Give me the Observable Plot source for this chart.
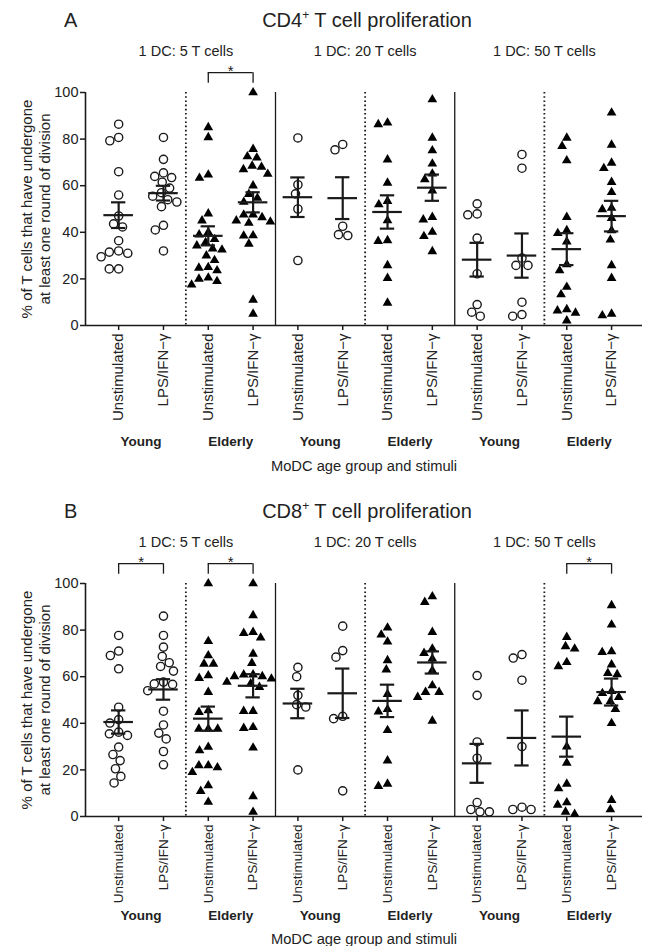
<!DOCTYPE html>
<html><head><meta charset="utf-8">
<script src="https://cdn.jsdelivr.net/npm/d3@7"></script>
<script src="https://cdn.jsdelivr.net/npm/@observablehq/plot@0.6"></script>
<style>
html,body{margin:0;padding:0;background:#fff}
body{width:651px;height:946px;overflow:hidden;font-family:"Liberation Sans",Arial,Helvetica,sans-serif;color:#222}
.panel{position:relative;width:651px}
.head{position:relative;height:36px}
.letter{position:absolute;left:64px;top:10px;font-size:20px;line-height:20px}
.title{position:absolute;left:367px;top:10px;transform:translateX(-50%);white-space:nowrap;font-size:20px;line-height:20px}
.title sup{font-size:12px;vertical-align:0;position:relative;top:-8px}
svg{display:block}
</style>
</head><body>
<div class="panel" id="pA"><div class="head"><span class="letter">A</span><span class="title">CD4<sup>+</sup> T cell proliferation</span></div></div>
<div class="panel" id="pB"><div class="head"><span class="letter">B</span><span class="title">CD8<sup>+</sup> T cell proliferation</span></div></div>
<script>
// ---- categories ----
const ratios = ["1 DC: 5 T cells", "1 DC: 20 T cells", "1 DC: 50 T cells"];
const ages = ["Young", "Elderly"];
const stimuli = ["Unstimulated", "LPS/IFN\u2212γ"];
const yTicks = [0, 20, 40, 60, 80, 100];
const xTitle = "MoDC age group and stimuli";
const yTitle = "% of T cells that have undergone\nat least one round of division";

// ---- CD4+ values: column order = ratio x age x stimulus ----
const cd4_5_young_unstim = [86.4, 80.7, 79.3, 66, 56, 47, 43.6, 42.3, 36.4, 32, 31.5, 31, 29.5, 24.3, 24.3];
const cd4_5_young_lps    = [80.7, 71.3, 65.5, 64, 63.5, 61.5, 59, 57, 55.5, 54, 53, 51, 43, 41, 32];
const cd4_5_elder_unstim = [85, 80.7, 64.7, 63.3, 48, 45, 40, 39, 37, 35.7, 34.3, 33, 32.5, 30, 28, 25, 24.7, 23.6, 20.5, 20, 19, 17.5];
const cd4_5_elder_lps    = [100, 75.7, 72.5, 72, 68.5, 68, 67, 65, 60, 56.4, 54.7, 53, 47.6, 47.5, 46.4, 45, 44.5, 44, 38.6, 38.5, 35, 11, 5];
const cd4_20_young_unstim = [80.5, 60.4, 56.5, 50, 27.9];
const cd4_20_young_lps    = [77.7, 75.4, 42.6, 39, 38.6];
const cd4_20_elder_unstim = [87, 86.3, 71.2, 61.2, 53.4, 51.9, 45.1, 36.5, 36.2, 25.8, 20.3, 9.7];
const cd4_20_elder_lps    = [97, 80.5, 75.1, 69.4, 65.1, 62.7, 57.9, 46.5, 45.4, 40.1, 38.3, 31.8];
const cd4_50_young_unstim = [52.2, 47.9, 47.5, 37.5, 22.2, 9, 5.7, 4];
const cd4_50_young_lps    = [73.4, 67.5, 28.9, 25.8, 25.8, 10, 4.7, 4];
const cd4_50_elder_unstim = [80.5, 77, 70.8, 46.5, 40.8, 39.6, 36, 26.2, 23.6, 16.5, 13.3, 6.9, 6.4, 5.4, 2.1];
const cd4_50_elder_lps    = [91.3, 77.5, 69.8, 67.5, 61.5, 57.2, 50.4, 49.8, 46.1, 40.8, 36.8, 25.8, 20.3, 5, 4.3];

// ---- CD8+ values ----
const cd8_5_young_unstim = [77.7, 71, 69.1, 63.4, 46.9, 41.6, 40.1, 36.2, 35.5, 34.8, 29.8, 26.6, 24, 20.5, 17.2, 14.4];
const cd8_5_young_lps    = [86, 77.7, 72.7, 68.7, 66, 64.4, 62.4, 57.7, 56.9, 56.7, 54, 45.2, 39.3, 35.8, 33.3, 27.9, 22.2];
const cd8_5_elder_unstim = [100, 75.2, 69.1, 65.5, 65.5, 60.5, 59.4, 53.4, 45.5, 44.8, 37.6, 37.6, 37.6, 29.8, 28.3, 21.9, 21.9, 21, 19, 13.3, 10.9, 6.2];
const cd8_5_elder_lps    = [100, 86.3, 79.1, 78.7, 76.7, 69.8, 65.8, 60.9, 60.9, 60.1, 60.1, 59.1, 57.7, 57, 55.5, 45.2, 45.2, 38.3, 37.9, 29.5, 8.6, 1.9];
const cd8_20_young_unstim = [64, 60, 52, 48, 47, 20];
const cd8_20_young_lps    = [81.7, 71.2, 68.4, 43, 42, 11];
const cd8_20_elder_unstim = [81, 78, 75, 67, 63, 52.5, 46, 45, 37, 24, 14, 13];
const cd8_20_elder_lps    = [94.4, 92, 79.1, 72, 70.1, 67.7, 62.7, 56.2, 53.4, 53.4, 51.2, 41];
const cd8_50_young_unstim = [60.5, 52, 32, 25, 6, 3, 2, 2];
const cd8_50_young_lps    = [69.5, 68, 58.5, 30, 4, 3, 3];
const cd8_50_elder_unstim = [77, 73, 72, 66.2, 64.4, 30, 23, 14, 12, 6, 5, 2, 1];
const cd8_50_elder_lps    = [90.6, 82.3, 70.8, 70.5, 65.2, 61.5, 61, 53.8, 52.9, 51.2, 49.4, 49.4, 46, 40, 7, 3];

// significance brackets: pairs of column indices
const cd4_significant = [[2, 3]];
const cd8_significant = [[0, 1], [2, 3], [10, 11]];

const cd4Columns = [cd4_5_young_unstim, cd4_5_young_lps, cd4_5_elder_unstim, cd4_5_elder_lps,
  cd4_20_young_unstim, cd4_20_young_lps, cd4_20_elder_unstim, cd4_20_elder_lps,
  cd4_50_young_unstim, cd4_50_young_lps, cd4_50_elder_unstim, cd4_50_elder_lps];
const cd8Columns = [cd8_5_young_unstim, cd8_5_young_lps, cd8_5_elder_unstim, cd8_5_elder_lps,
  cd8_20_young_unstim, cd8_20_young_lps, cd8_20_elder_unstim, cd8_20_elder_lps,
  cd8_50_young_unstim, cd8_50_young_lps, cd8_50_elder_unstim, cd8_50_elder_lps];

// ---- layout ----
const W = 651, ML = 85, MR = 9, MT = 56, FH = 233;
const xDomain = [-0.74, 11.69];
const pxX = (W - ML - MR) / (xDomain[1] - xDomain[0]);
const pxY = FH / 100;
const DIAM = 9.4;
const FONT = "Liberation Sans, Arial, Helvetica, sans-serif";

// beeswarm spreading (computed from the values)
function swarm(values) {
  const order = values.map((v, i) => i).sort((a, b) => values[b] - values[a]);
  const placed = [], off = new Array(values.length);
  for (const i of order) {
    const y = values[i] * pxY;
    const near = placed.filter(p => Math.abs(p.y - y) < DIAM);
    const cands = [0];
    for (const p of near) {
      const dx = Math.sqrt(DIAM * DIAM - (p.y - y) ** 2);
      cands.push(p.x + dx, p.x - dx);
    }
    cands.sort((a, b) => Math.abs(a) - Math.abs(b) || a - b);
    const best = cands.find(c => near.every(p => (p.x - c) ** 2 + (p.y - y) ** 2 >= DIAM * DIAM - 1e-6));
    placed.push({y, x: best});
    off[i] = best;
  }
  return off;
}

function build(columns, significant, marginBottom, ageDy, titleDy, tickFont) {
  const rows = [], stats = [];
  columns.forEach((vals, col) => {
    const off = swarm(vals);
    const age = ages[Math.floor(col / 2) % 2];
    vals.forEach((v, i) => rows.push({col, age, value: v, x: col + off[i] / pxX}));
    const mean = d3.mean(vals), sem = d3.deviation(vals) / Math.sqrt(vals.length);
    stats.push({col, mean, lo: mean - sem, hi: mean + sem});
  });
  const ratioLabels = ratios.map((label, i) => ({label, x: i * 4 + 1.5}));
  const ageLabels = d3.range(6).map(i => ({label: ages[i % 2], x: i * 2 + 0.5}));
  const dividers = d3.range(1, 3).map(i => i * 4 - 0.5);
  const dotted = d3.range(3).map(i => i * 4 + 1.5);
  const legs = significant.flat();
  const ink = "#1a1a1a";
  return Plot.plot({
    width: W, height: MT + FH + marginBottom,
    marginLeft: ML, marginRight: MR, marginTop: MT, marginBottom,
    style: {fontFamily: FONT, color: "#222", background: "white", overflow: "visible"},
    x: {domain: xDomain, axis: null},
    y: {domain: [0, 100], axis: null},
    marks: [
      Plot.ruleX(dividers, {stroke: ink, strokeWidth: 1.3}),
      Plot.ruleX(dotted, {stroke: ink, strokeWidth: 1.8, strokeDasharray: "1.6,2.6"}),
      Plot.axisY({ticks: yTicks, tickSize: 5, tickPadding: 2, fontSize: 14.5, label: null, stroke: ink, strokeWidth: 1.5}),
      Plot.axisX({ticks: d3.range(12), tickFormat: i => stimuli[i % 2], tickRotate: -90, tickSize: 5, tickPadding: 3, fontSize: tickFont, label: null, stroke: ink, strokeWidth: 1.5}),
      Plot.ruleY([0], {stroke: ink, strokeWidth: 1.6}),
      Plot.ruleX([xDomain[0]], {stroke: ink, strokeWidth: 1.6}),
      Plot.dot(rows.filter(d => d.age === "Young"), {x: "x", y: "value", r: 4.1, stroke: ink, strokeWidth: 1.4, fill: "none"}),
      Plot.dot(rows.filter(d => d.age === "Elderly"), {x: "x", y: "value", r: 3.6, symbol: "triangle", fill: "#000", stroke: "none"}),
      Plot.ruleY(stats, {y: "mean", x1: d => d.col - 0.33, x2: d => d.col + 0.33, stroke: ink, strokeWidth: 2.2}),
      Plot.ruleX(stats, {x: "col", y1: "lo", y2: "hi", stroke: ink, strokeWidth: 2.2}),
      Plot.ruleY(stats, {y: "lo", x1: d => d.col - 0.16, x2: d => d.col + 0.16, stroke: ink, strokeWidth: 2.2}),
      Plot.ruleY(stats, {y: "hi", x1: d => d.col - 0.16, x2: d => d.col + 0.16, stroke: ink, strokeWidth: 2.2}),
      // significance brackets
      Plot.ruleY(significant, {y: 108.5, x1: d => d[0], x2: d => d[1], stroke: ink, strokeWidth: 1.3}),
      Plot.ruleX(legs, {x: d => d, y1: 104, y2: 108.5, stroke: ink, strokeWidth: 1.3}),
      Plot.text(significant, {x: d => (d[0] + d[1]) / 2, y: 109, text: () => "*", fontSize: 15, lineAnchor: "middle", fill: ink}),
      // headings and labels
      Plot.text(ratioLabels, {x: "x", text: "label", frameAnchor: "top", dy: -41, fontSize: 14.5, lineAnchor: "middle"}),
      Plot.text(ageLabels, {x: "x", text: "label", frameAnchor: "bottom", dy: ageDy, fontSize: 13.5, fontWeight: "bold", lineAnchor: "middle"}),
      Plot.text([xTitle], {text: d => d, frameAnchor: "bottom", dy: titleDy, fontSize: 14.7, lineAnchor: "middle"}),
      Plot.text([yTitle], {text: d => d, frameAnchor: "left", textAnchor: "middle", dx: -50, rotate: -90, fontSize: 15, lineHeight: 1.15, lineAnchor: "middle"})
    ]
  });
}

document.getElementById("pA").appendChild(build(cd4Columns, cd4_significant, 166, 116, 141, 15));
document.getElementById("pB").appendChild(build(cd8Columns, cd8_significant, 130, 99, 123, 13.5));
</script>
</body></html>
